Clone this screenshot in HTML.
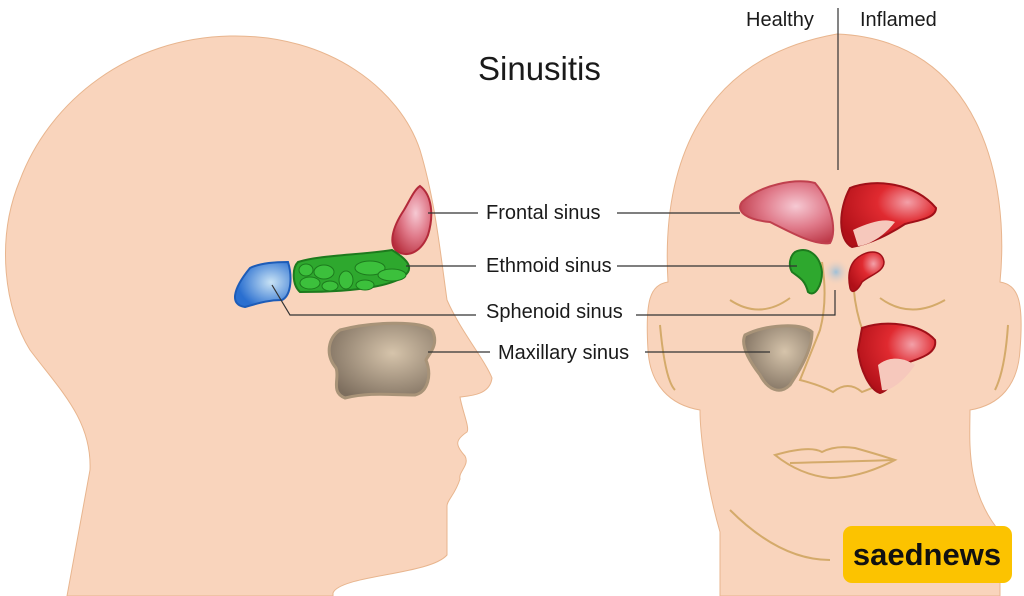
<!DOCTYPE html>
<html><head><meta charset="utf-8"><style>
body{margin:0;background:#fff}
svg{display:block}
text{font-family:"Liberation Sans",sans-serif;fill:#1a1a1a}
</style></head><body>
<svg width="1024" height="596" viewBox="0 0 1024 596" xmlns="http://www.w3.org/2000/svg">
<defs>
<radialGradient id="red" cx="0.6" cy="0.4" r="0.7"><stop offset="0" stop-color="#f6c9d3"/><stop offset="0.5" stop-color="#e07a8a"/><stop offset="1" stop-color="#b8303f"/></radialGradient>
<radialGradient id="infl" cx="0.7" cy="0.3" r="0.8"><stop offset="0" stop-color="#f3a0a8"/><stop offset="0.4" stop-color="#e02a30"/><stop offset="1" stop-color="#b01018"/></radialGradient>
<radialGradient id="blue" cx="0.65" cy="0.45" r="0.6"><stop offset="0" stop-color="#c9e3f5"/><stop offset="1" stop-color="#2a6fd0"/></radialGradient>
<radialGradient id="gray" cx="0.6" cy="0.4" r="0.7"><stop offset="0" stop-color="#d6c4ab"/><stop offset="1" stop-color="#7d6e5e"/></radialGradient>
<radialGradient id="spot" cx="0.5" cy="0.5" r="0.5"><stop offset="0" stop-color="#9fc0d8"/><stop offset="1" stop-color="#f9d4bc" stop-opacity="0"/></radialGradient>
</defs>
<path d="M67,596 L90,470 C92,420 60,390 30,350 C5,310 -5,240 20,180 C50,100 130,38 230,36 C330,34 400,90 420,150 C435,200 440,250 447,300 C460,330 485,360 492,378 C490,395 470,396 460,397 C462,410 470,428 467,432 C455,440 455,445 465,456 C470,465 458,472 460,479 C455,495 447,500 447,506 L447,555 C430,575 340,575 333,593 L333,596 Z" fill="#f9d4bc" stroke="#e8b58e" stroke-width="1"/>
<path d="M720,596 L720,532 C705,480 700,430 700,410 C670,405 650,385 648,350 C645,300 650,285 668,282 C662,180 690,60 837,34 C980,40 1010,180 1000,282 C1018,285 1024,300 1020,350 C1018,385 1000,405 970,410 C970,440 965,490 1000,532 L1000,596 Z" fill="#f9d4bc" stroke="#e8b58e" stroke-width="1"/>
<g fill="none" stroke="#d4aa6a" stroke-width="2">
<path d="M730,300 Q760,320 790,298"/><path d="M880,298 Q910,320 945,300"/>
<path d="M822,262 Q828,300 820,330 Q808,360 800,380 Q820,385 833,392 Q848,380 862,392 Q880,385 890,380 Q862,345 855,300 Q852,280 855,262"/>
<path d="M775,455 Q810,445 822,452 Q835,445 855,448 Q880,455 895,460 Q860,478 830,478 Q800,475 775,455 Z"/>
<path d="M790,463 Q835,462 895,460"/>
<path d="M660,325 Q665,380 675,390"/><path d="M1008,325 Q1005,370 995,390"/>
<path d="M730,510 Q780,560 830,560"/>
</g>
<path d="M420,186 C432,195 434,215 428,235 C422,250 410,258 398,252 C388,245 392,228 404,210 C410,200 414,190 420,186 Z" fill="url(#red)" stroke="#b32a3a" stroke-width="2"/>
<path d="M298,262 C320,255 360,255 392,250 C405,258 412,265 408,272 C400,285 360,292 300,292 C292,285 292,268 298,262 Z" fill="#2ea82e" stroke="#1d7a1d" stroke-width="2"/>
<g fill="#3cc03c" stroke="#1d7a1d" stroke-width="1"><ellipse cx="306" cy="270" rx="7" ry="6"/><ellipse cx="324" cy="272" rx="10" ry="7"/><ellipse cx="310" cy="283" rx="10" ry="6"/><ellipse cx="330" cy="286" rx="8" ry="5"/><ellipse cx="346" cy="280" rx="7" ry="9"/><ellipse cx="370" cy="268" rx="15" ry="7"/><ellipse cx="365" cy="285" rx="9" ry="5"/><ellipse cx="392" cy="275" rx="14" ry="6"/></g>
<path d="M250,268 C262,262 280,262 288,262 C292,275 292,295 282,300 C270,300 262,302 245,307 C230,305 232,290 250,268 Z" fill="url(#blue)" stroke="#1d5cb8" stroke-width="2"/>
<path d="M340,330 C370,322 420,320 432,330 C440,345 428,355 426,360 C432,375 428,392 415,395 C390,395 370,392 345,398 C330,392 340,378 336,368 C325,355 328,338 340,330 Z" fill="url(#gray)" stroke="#a89378" stroke-width="3"/>
<path d="M742,202 C760,185 795,178 815,183 C830,200 838,230 830,243 C815,246 790,232 770,222 C748,220 735,212 742,202 Z" fill="url(#red)" stroke="#c0404e" stroke-width="2"/>
<path d="M850,188 C875,178 915,183 936,208 C936,218 920,220 905,224 C890,234 870,244 852,247 C838,240 838,210 850,188 Z" fill="url(#infl)" stroke="#a01018" stroke-width="2"/>
<path d="M853,230 C870,222 885,218 895,222 C885,235 870,245 858,246 Z" fill="#f6c8bc"/>
<path d="M795,252 C808,246 820,255 822,272 C822,285 815,298 808,292 C805,280 800,278 792,272 C788,265 790,256 795,252 Z" fill="#2ea82e" stroke="#1d7a1d" stroke-width="2"/>
<ellipse cx="836" cy="272" rx="14" ry="14" fill="url(#spot)"/>
<path d="M855,260 C865,250 882,248 884,262 C884,272 870,275 862,282 C858,290 852,295 850,288 C848,278 848,268 855,260 Z" fill="url(#infl)" stroke="#a01018" stroke-width="1.5"/>
<path d="M745,335 C765,325 800,322 812,332 C812,350 800,370 790,385 C780,395 768,390 760,375 C750,362 740,345 745,335 Z" fill="url(#gray)" stroke="#a89378" stroke-width="3"/>
<path d="M862,328 C885,320 920,323 935,340 C938,355 915,360 900,365 C895,378 890,390 880,393 C870,390 860,370 858,350 Z" fill="url(#infl)" stroke="#a01018" stroke-width="2"/>
<path d="M878,365 C890,355 905,358 915,365 C905,380 890,392 882,390 Z" fill="#f6c8bc"/>
<g stroke="#333" stroke-width="1.2" fill="none">
<path d="M428,213 H478"/><path d="M617,213 H740"/>
<path d="M406,266 H476"/><path d="M617,266 H797"/>
<path d="M272,285 L290,315 H476"/><path d="M636,315 H835 V290"/>
<path d="M428,352 H490"/><path d="M645,352 H770"/>
<path d="M838,8 V170"/>
</g>
<text x="478" y="80" font-size="33">Sinusitis</text>
<text x="746" y="26" font-size="20">Healthy</text>
<text x="860" y="26" font-size="20">Inflamed</text>
<text x="486" y="219" font-size="20">Frontal sinus</text>
<text x="486" y="272" font-size="20">Ethmoid sinus</text>
<text x="486" y="318" font-size="20">Sphenoid sinus</text>
<text x="498" y="359" font-size="20">Maxillary sinus</text>
<rect x="843" y="526" width="169" height="57" rx="9" fill="#fcc300"/>
<text x="927" y="565" font-size="31" font-weight="bold" text-anchor="middle" style="fill:#111">saednews</text>
</svg>
</body></html>
